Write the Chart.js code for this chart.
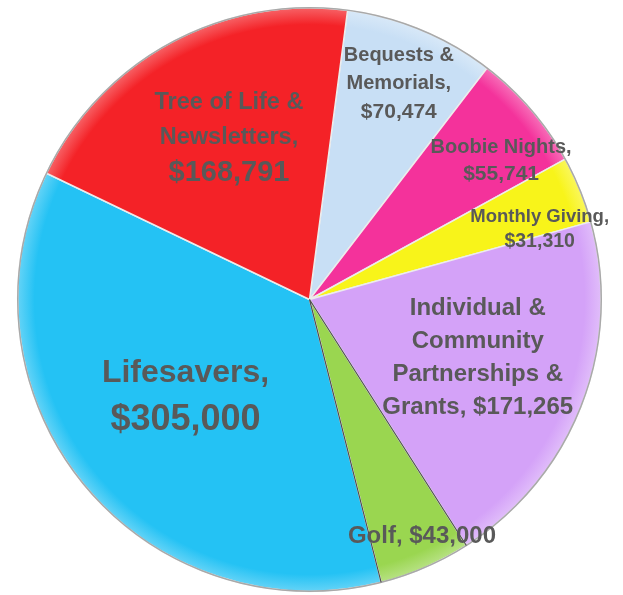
<!DOCTYPE html>
<html>
<head>
<meta charset="utf-8">
<script src="https://cdn.jsdelivr.net/npm/chart.js@4.4.0/dist/chart.umd.min.js"></script>
<style>
  html, body { margin: 0; padding: 0; background: #fff; }
  #wrap { width: 623px; height: 595px; }
</style>
</head>
<body>
<div id="wrap"><canvas id="pieChart"></canvas></div>
<script>
// Data
const categories = [
    "Bequests & Memorials",
    "Boobie Nights",
    "Monthly Giving",
    "Individual & Community Partnerships & Grants",
    "Golf",
    "Lifesavers",
    "Tree of Life & Newsletters",
];
const amounts = [70474, 55741, 31310, 171265, 43000, 305000, 168791];
const sliceColors = ["#c8dff5", "#f4329b", "#f8f41a", "#d4a2f8", "#9ad650", "#24c2f4", "#f42227"];

// How each label is broken into lines
const labelLines = [
    ["Bequests &", "Memorials,", "$70,474"],
    ["Boobie Nights,", "$55,741"],
    ["Monthly Giving,", "$31,310"],
    ["Individual &", "Community", "Partnerships &", "Grants, $171,265"],
    ["Golf, $43,000"],
    ["Lifesavers,", "$305,000"],
    ["Tree of Life &", "Newsletters,", "$168,791"],
];

// Label placement / size per slice (fraction of radius, angle nudge, font px per line, line step)
const labelStyle = [
    { r: 0.80, da: 0, sizes: [20, 20, 21], step: 28.5 },
    { r: 0.81, da: 4.8, sizes: [20, 21], step: 27 },
    { r: 0.825, da: 5.1, sizes: [18.5, 19.5], step: 25 },
    { r: 0.61, da: -2, sizes: [24, 24, 24, 24], step: 33 },
    { r: 0.90, da: -2, sizes: [24], step: 30 },
    { r: 0.54, da: 1.2, sizes: [32, 36], step: 47 },
    { r: 0.62, da: 2, sizes: [23.5, 23.5, 29], step: 35 },
];

function lighten(hex, t) {
    const n = parseInt(hex.slice(1), 16);
    const mix = (c) => Math.round(c + (255 - c) * t);
    return `rgb(${mix(n >> 16)}, ${mix((n >> 8) & 255)}, ${mix(n & 255)})`;
}

// soft bevel: slightly lighter band towards the rim
function sliceFill(context) {
    const base = sliceColors[context.dataIndex];
    const area = context.chart.chartArea;
    if (!area) return base;
    const cx = (area.left + area.right) / 2;
    const cy = (area.top + area.bottom) / 2;
    const r = Math.min(area.right - area.left, area.bottom - area.top) / 2;
    const g = context.chart.ctx.createRadialGradient(cx, cy, 0, cx, cy, r);
    g.addColorStop(0, base);
    g.addColorStop(0.94, base);
    g.addColorStop(1, lighten(base, 0.3));
    return g;
}

const sliceLabels = {
    id: "sliceLabels",
    afterDatasetsDraw(chart) {
        const ctx = chart.ctx;
        const arcs = chart.getDatasetMeta(0).data;
        ctx.save();
        // outer rim
        const a0 = arcs[0];
        ctx.beginPath();
        ctx.arc(a0.x, a0.y, a0.outerRadius, 0, Math.PI * 2);
        ctx.strokeStyle = "#a9a9a9";
        ctx.lineWidth = 1.5;
        ctx.stroke();

        // darker edges around the golf slice
        const golf = arcs[4];
        ctx.beginPath();
        [golf.startAngle, golf.endAngle].forEach((ang) => {
            ctx.moveTo(golf.x, golf.y);
            ctx.lineTo(golf.x + Math.cos(ang) * golf.outerRadius, golf.y + Math.sin(ang) * golf.outerRadius);
        });
        ctx.strokeStyle = "#505050";
        ctx.lineWidth = 1.2;
        ctx.stroke();

        ctx.fillStyle = "#595959";
        ctx.textAlign = "center";
        ctx.textBaseline = "middle";
        arcs.forEach((arc, i) => {
            const st = labelStyle[i];
            const mid = (arc.startAngle + arc.endAngle) / 2 + (st.da * Math.PI) / 180;
            const cx = arc.x + Math.cos(mid) * arc.outerRadius * st.r;
            const cy = arc.y + Math.sin(mid) * arc.outerRadius * st.r;
            const lines = labelLines[i];
            const top = cy - ((lines.length - 1) * st.step) / 2;
            lines.forEach((ln, k) => {
                ctx.font = "bold " + st.sizes[k] + "px 'Liberation Sans', Arial, sans-serif";
                ctx.fillText(ln, cx, top + k * st.step);
            });
        });
        ctx.restore();
    },
};

new Chart(document.getElementById("pieChart"), {
    type: "pie",
    data: {
        labels: categories,
        datasets: [
            {
                data: amounts,
                backgroundColor: sliceFill,
                borderColor: "#ececec",
                borderWidth: 1.5,
            },
        ],
    },
    options: {
        responsive: true,
        maintainAspectRatio: false,
        animation: false,
        rotation: 7.5,
        layout: { padding: { top: 7, bottom: 3, left: 0, right: 4 } },
        plugins: {
            legend: { display: false },
            tooltip: { enabled: false },
        },
    },
    plugins: [sliceLabels],
});
</script>
</body>
</html>
